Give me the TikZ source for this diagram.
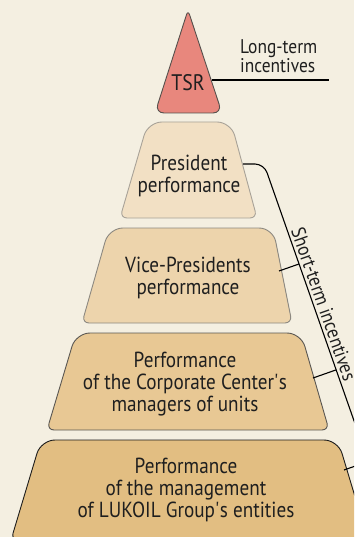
\documentclass[tikz,border=0pt]{standalone}
\usepackage{fontspec}
\setmainfont{PT Sans}[FakeStretch=0.88]
\usetikzlibrary{calc}

\definecolor{paper}{HTML}{F4EFE1}
\definecolor{tsrfill}{HTML}{E8877D}
\definecolor{tsrline}{HTML}{55504C}
\definecolor{presfill}{HTML}{F2E0C4}
\definecolor{presline}{HTML}{A8A298}
\definecolor{vpfill}{HTML}{EDD4AC}
\definecolor{vpline}{HTML}{8C8880}
\definecolor{corpfill}{HTML}{E8C894}
\definecolor{corpline}{HTML}{5A5752}
\definecolor{lukfill}{HTML}{E2BE82}
\definecolor{lukline}{HTML}{1A1A1A}

\begin{document}
\begin{tikzpicture}[
  x=1pt, y=-1pt,
  tier/.style={align=center, inner sep=0pt, text=black!88, font=\fontsize{21.8}{22}\selectfont},
  level/.style={line width=0.9pt},
  brace/.style={line width=1.1pt, black},
  side/.style={inner sep=0pt, text=black!88, font=\fontsize{19.8}{19.5}\selectfont}
]

% paper
\fill[paper] (0,0) rectangle (354,537);
\useasboundingbox (0,0) rectangle (354,537);
\clip (0,0) rectangle (354,537);

% pyramid levels
\draw[level, fill=tsrfill, draw=tsrline] (155,113) [rounded corners=5pt] -- (188,10) [rounded corners=9pt] -- (222,113) -- cycle;
\draw[level, fill=presfill, draw=presline] (120,218) [rounded corners=14pt] -- (148,122) -- (231,122) [rounded corners=7pt] -- (257,218) -- cycle;
\draw[level, fill=vpfill, draw=vpline] (82,323) [rounded corners=14pt] -- (109,228) -- (273,228) [rounded corners=7pt] -- (292,323) -- cycle;
\draw[level, fill=corpfill, draw=corpline] (47,430) [rounded corners=14pt] -- (76,333) -- (301,333) [rounded corners=7pt] -- (329,430) -- cycle;
\draw[level, fill=lukfill, draw=lukline] (11,540) [rounded corners=14pt] -- (41,440) -- (338,440) [rounded corners=7pt] -- (368,540) -- cycle;

\node[tier, font=\fontsize{22.5}{24}\selectfont] (tsr) at (188,83) {TSR};
\node[tier] (pres) at (189,176) {President\\performance};
\node[tier] (vp)   at (188,278) {Vice-Presidents\\performance};
\node[tier] (corp) at (185,384) {Performance\\of the Corporate Center\textquotesingle s\\managers of units};
\node[tier] (luk)  at (186,490) {Performance\\of the management\\of LUKOIL Group\textquotesingle s entities};

% long-term
\coordinate (tsr-tick) at (212,80);
\coordinate (lt-end) at (329,80);
\draw[brace] (tsr-tick) -- (lt-end);
\node[side, anchor=west, align=left] (longterm) at (240,56) {Long-term\\incentives};

% short-term bracket
\coordinate (pres-tick) at (243,164);
\coordinate (brk-a) at (264,164);
\coordinate (brk-b) at (400,552);
\draw[brace, rounded corners=9pt] (pres-tick) -- (brk-a) -- (brk-b)
  node[side, sloped, above, pos=0.37, inner sep=2.5pt] (shortterm) {Short-term incentives};

\coordinate (vp-tick)   at (279,271);
\coordinate (corp-tick) at (313,378);
\coordinate (luk-tick)  at (344,470);
\foreach \n in {vp,corp,luk}
  \draw[brace] (\n-tick) -- ($(brk-a)!(\n-tick)!(brk-b)$);

\end{tikzpicture}
\end{document}
